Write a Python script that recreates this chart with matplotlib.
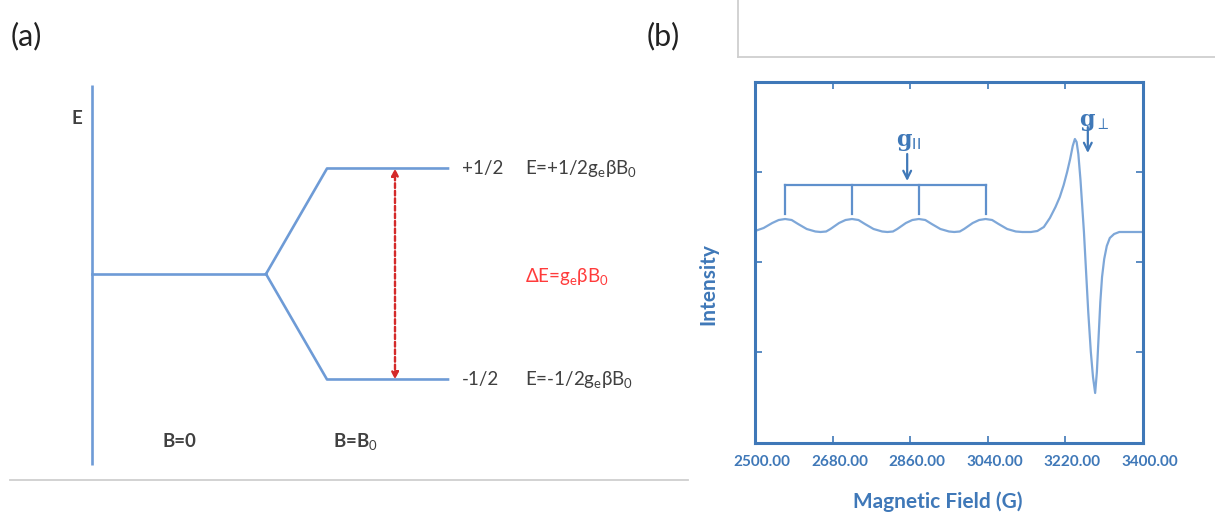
import matplotlib
matplotlib.use("Agg")
import matplotlib.pyplot as plt
import matplotlib.transforms as mtransforms
from matplotlib.lines import Line2D

plt.rcParams['font.family'] = ['Lato', 'DejaVu Sans']
plt.rcParams['mathtext.fontset'] = 'custom'
plt.rcParams['mathtext.rm'] = 'Lato'
plt.rcParams['mathtext.it'] = 'Lato'
plt.rcParams['mathtext.bf'] = 'Lato:bold'

# ---- panel (a): Zeeman splitting of an electron spin ----
MS = [0.5, -0.5]                     # spin quantum numbers
DELTA_E = 2.0                        # level splitting (arbitrary units)
MS_LABELS = ["+1/2", "-1/2"]
E_LABELS = [r"E=+1/2g$_{\rm e}$βB$_{\rm 0}$", r"E=-1/2g$_{\rm e}$βB$_{\rm 0}$"]
DE_LABEL = r"ΔE=g$_{\rm e}$βB$_{\rm 0}$"

# ---- panel (b): EPR spectrum ----
FIELD = [2500, 2520, 2540, 2555, 2570, 2585, 2600, 2620, 2640, 2652, 2665,
         2675, 2695, 2710, 2725, 2740, 2755, 2775, 2795, 2807, 2820,
         2830, 2850, 2865, 2880, 2895, 2910, 2930, 2950, 2962, 2975,
         2985, 3005, 3020, 3035, 3050, 3065, 3085, 3105, 3120, 3140,
         3155, 3170, 3184, 3197, 3207, 3216, 3224, 3231, 3237, 3242,
         3246, 3250, 3255, 3259, 3263, 3268, 3273, 3279, 3284, 3289,
         3293, 3297, 3301, 3305, 3310, 3316, 3323, 3333, 3345, 3400]
INTENSITY = [1, 4, 9, 12, 13, 12, 8, 3, 0.5, 0, 0.5,
             3, 9, 12, 13, 12, 8, 3, 0.5, 0, 0.5,
             3, 9, 12, 13, 12, 8, 3, 0.5, 0, 0.5,
             3, 9, 12, 13, 12, 8, 3, 0.5, 0, 0,
             1, 5, 14, 25, 35, 47, 60, 73, 86, 93,
             90, 78, 52, 26, 0, -40, -80, -120, -145, -161,
             -140, -105, -70, -45, -27, -14, -6, -2, 0, 0]
HF_LINES = [2570, 2725, 2880, 3035]  # parallel hyperfine components
G_PAR = 2853
G_PERP = 3272
X_TICKS = [2500, 2680, 2860, 3040, 3220, 3400]
X_TICK_LABELS = ["2500.00", "2680.00", "2860.00", "3040.00", "3220.00", "3400.00"]

W, H = 1215, 516
fig = plt.figure(figsize=(W / 100, H / 100), dpi=100)

level_blue = '#6e9bd6'
dark = '#404040'

# panel (a) axes spans the left part of the figure
ax = fig.add_axes([0, 0, 690 / W, 1])
ax.set_axis_off()
ax.set_xlim(-0.92, 5.98)
ax.set_ylim(-2.294, 2.597)

split_x, level_x0, level_x1, arrow_x = 1.74, 2.35, 3.56, 3.03
ax.plot([0, 0], [-1.81, 1.79], color=level_blue, lw=1.9, solid_capstyle='butt')
ax.plot([0, split_x], [0, 0], color=level_blue, lw=1.9)
for ms, lab, elab in zip(MS, MS_LABELS, E_LABELS):
    e = ms * DELTA_E
    ax.plot([split_x, level_x0, level_x1], [0, e, e], color=level_blue, lw=1.9)
    ax.text(3.70, e, lab, fontsize=13.5, color=dark, va='center', ha='left')
    ax.text(4.33, e, elab, fontsize=13.5, color=dark, va='center', ha='left')

ax.annotate('', xy=(arrow_x, MS[0] * DELTA_E), xytext=(arrow_x, MS[1] * DELTA_E),
            arrowprops=dict(arrowstyle='<|-|>', linestyle=(0, (2, 1.2)), color='#d42a2a',
                            lw=1.7, mutation_scale=10, shrinkA=0, shrinkB=0))
ax.text(4.33, -0.02, DE_LABEL, fontsize=13.5, color='#ff3b3b', va='center', ha='left')
ax.text(-0.15, 1.47, "E", fontsize=13.5, fontweight='bold', color=dark, ha='center', va='center')
ax.text(0.71, -1.59, "B=0", fontsize=13.5, fontweight='bold', color=dark, ha='left', va='center')
ax.text(2.41, -1.59, r"B=B$_{\rm 0}$", fontsize=13.5, fontweight='bold', color=dark,
        ha='left', va='center')

fig.text(11 / W, 1 - 36 / H, "(a)", fontsize=22, color='#222222', ha='left', va='center')
fig.text(647 / W, 1 - 36 / H, "(b)", fontsize=22, color='#222222', ha='left', va='center')

# decorative grey frame lines
grey = '#cfcfcf'
fig.add_artist(Line2D([10 / W, 688 / W], [1 - 480 / H] * 2, color=grey, lw=1.3))
fig.add_artist(Line2D([738 / W, 738 / W], [1, 1 - 57 / H], color=grey, lw=1.3))
fig.add_artist(Line2D([738 / W, 1], [1 - 57 / H] * 2, color=grey, lw=1.3))

# panel (b)
spec_blue = '#3f78b8'
bx = fig.add_axes([755 / W, (H - 443) / H, 388 / W, 361 / H])
bx.plot(FIELD, INTENSITY, color='#7ea7d8', lw=1.6)
bx.set_xlim(2500, 3400)
bx.set_ylim(-211, 150)
for sp in bx.spines.values():
    sp.set_color(spec_blue)
    sp.set_linewidth(2.2)
bx.set_xticks(X_TICKS)
bx.set_xticklabels(X_TICK_LABELS)
bx.set_yticks([60, -30, -120])
bx.set_yticklabels([])
bx.tick_params(direction='in', length=5, width=1.2, color=spec_blue,
               top=True, right=True, labelsize=11, labelcolor=spec_blue, pad=9)
offset = mtransforms.ScaledTranslation(0.07, 0, fig.dpi_scale_trans)
for lbl in bx.get_xticklabels():
    lbl.set_fontweight('bold')
    lbl.set_transform(lbl.get_transform() + offset)
bx.set_xlabel("Magnetic Field (G)", fontsize=15, fontweight='bold', color=spec_blue, labelpad=8)
bx.xaxis.set_label_coords(0.47, -0.135)
bx.set_ylabel("Intensity", fontsize=15, fontweight='bold', color=spec_blue)
bx.yaxis.set_label_coords(-0.095, 0.44)

# hyperfine bracket
br_top, br_bot = 47, 18
bx.plot([HF_LINES[0], HF_LINES[-1]], [br_top, br_top], color='#5f90cc', lw=1.6)
for f in HF_LINES:
    bx.plot([f, f], [br_top, br_bot], color='#5f90cc', lw=1.6)

bx.annotate('', xy=(G_PAR, 51), xytext=(G_PAR, 78),
            arrowprops=dict(arrowstyle='->', color=spec_blue, lw=1.6, mutation_scale=14,
                            shrinkA=0, shrinkB=0))
bx.text(G_PAR + 3, 90, r"g$_{\rm II}$", fontsize=16, fontweight='bold', color=spec_blue,
        family='DejaVu Serif', ha='center', va='center')
bx.annotate('', xy=(G_PERP, 79), xytext=(G_PERP, 105),
            arrowprops=dict(arrowstyle='->', color=spec_blue, lw=1.6, mutation_scale=14,
                            shrinkA=0, shrinkB=0))
bx.text(G_PERP + 15, 110, r"g$_{\perp}$", fontsize=16, fontweight='bold', color=spec_blue,
        family='DejaVu Serif', ha='center', va='center')

fig.savefig("out.png", dpi=100)
